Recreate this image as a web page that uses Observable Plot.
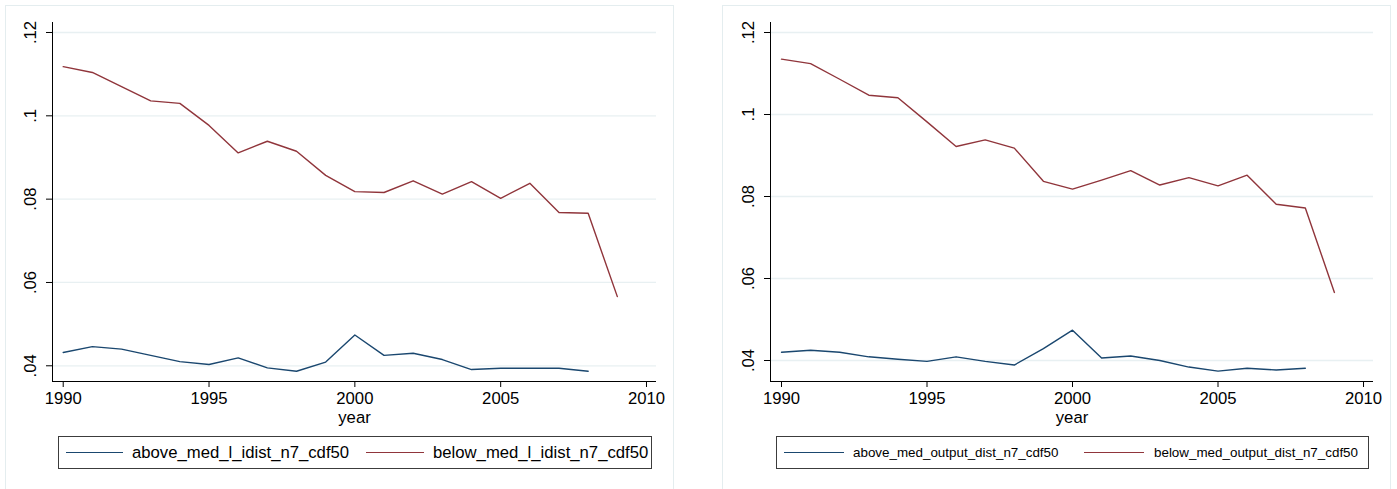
<!DOCTYPE html>
<html><head><meta charset="utf-8">
<script src="https://cdn.jsdelivr.net/npm/d3@7"></script>
<script src="https://cdn.jsdelivr.net/npm/@observablehq/plot@0.6"></script>
<style>
body{margin:0;background:#fff;font-family:"Liberation Sans",Arial,sans-serif;}
#root{position:relative;width:1397px;height:489px;overflow:hidden;}
.panel{position:absolute;top:5px;height:500px;border:1px solid #e4edef;box-sizing:border-box;}
.chart{position:absolute;top:0;}
.legend{position:absolute;top:436px;height:33px;border:1.5px solid #3c3c3c;box-sizing:border-box;background:#fff;}
.item{position:absolute;top:0;height:100%;display:flex;align-items:center;white-space:nowrap;color:#000;}
.swatch{position:absolute;height:0;border-top:1.5px solid;}
</style></head><body><div id="root"></div>
<script>
const years = [1990,1991,1992,1993,1994,1995,1996,1997,1998,1999,2000,2001,2002,2003,2004,2005,2006,2007,2008,2009];
// Left panel: l_idist
const leftAbove = [0.0432,0.0446,0.0440,0.0425,0.0410,0.0403,0.0419,0.0395,0.0387,0.0409,0.0474,0.0425,0.0430,0.0415,0.0391,0.0394,0.0394,0.0394,0.0387];
const leftBelow = [0.1118,0.1104,0.1070,0.1036,0.1030,0.0977,0.0911,0.0939,0.0915,0.0857,0.0818,0.0816,0.0844,0.0812,0.0842,0.0802,0.0838,0.0768,0.0766,0.0566];
// Right panel: output_dist
const rightAbove = [0.0420,0.0425,0.0420,0.0409,0.0403,0.0398,0.0409,0.0398,0.0389,0.0429,0.0474,0.0406,0.0411,0.0400,0.0384,0.0374,0.0381,0.0377,0.0381];
const rightBelow = [0.1135,0.1124,0.1086,0.1047,0.1041,0.0982,0.0922,0.0938,0.0918,0.0837,0.0818,0.0840,0.0863,0.0828,0.0846,0.0826,0.0852,0.0781,0.0772,0.0566];
const leftLabels = ["above_med_l_idist_n7_cdf50","below_med_l_idist_n7_cdf50"];
const rightLabels = ["above_med_output_dist_n7_cdf50","below_med_output_dist_n7_cdf50"];
const yTicks = [0.04,0.06,0.08,0.1,0.12];
const yTickLabels = [".04",".06",".08",".1",".12"];
const xTicks = [1990,1995,2000,2005,2010];
const xLabel = "year";
const colors = ["#1a476f","#90353b"];

const FONT = '"Liberation Sans", Arial, sans-serif';
const root = document.getElementById("root");

function toRows(vals){ return vals.map((v,i)=>({year: years[i], value: v})); }

function panel({left, width, marginLeft, xDomain, yDomain, above, below}){
  const chart = Plot.plot({
    width, height: 430,
    marginLeft, marginRight: 24, marginTop: 22, marginBottom: 49,
    style: {fontFamily: FONT, fontSize: "16.7px", background: "transparent", color: "#000", overflow: "visible"},
    x: {domain: xDomain},
    y: {domain: yDomain},
    marks: [
      Plot.gridY(yTicks, {stroke: "#e8f0f2", strokeOpacity: 1, strokeWidth: 1.3}),
      Plot.ruleX([xDomain[0]], {y1: yDomain[0], y2: yDomain[1], stroke: "#000", strokeWidth: 1}),
      Plot.ruleY([yDomain[0]], {x1: xDomain[0], x2: xDomain[1], stroke: "#000", strokeWidth: 1}),
      Plot.axisY(yTicks, {tickSize: 6, tickRotate: -90, tickPadding: 11, label: null,
        tickFormat: d => yTickLabels[yTicks.indexOf(d)], fontSize: "16.7px"}),
      Plot.axisX(xTicks, {tickSize: 6, tickPadding: 5, label: null, tickFormat: d => String(d), fontSize: "16.7px"}),
      Plot.text([xLabel], {frameAnchor: "bottom", text: d => d, dy: 41, lineAnchor: "bottom", fontSize: "16.7px"}),
      Plot.line(toRows(above), {x: "year", y: "value", stroke: colors[0], strokeWidth: 1.4}),
      Plot.line(toRows(below), {x: "year", y: "value", stroke: colors[1], strokeWidth: 1.4})
    ]
  });
  chart.classList.add("chart");
  chart.style.left = left + "px";
  root.appendChild(chart);
}

function frameBox(left, width){
  const d = document.createElement("div");
  d.className = "panel";
  d.style.left = left + "px";
  d.style.width = width + "px";
  root.appendChild(d);
}

function legend({left, width, fontSize, labels, items}){
  const box = document.createElement("div");
  box.className = "legend";
  box.style.left = left + "px";
  box.style.width = width + "px";
  labels.forEach((lab, i) => {
    const it = items[i];
    const sw = document.createElement("div");
    sw.className = "swatch";
    sw.style.left = it.sx + "px";
    sw.style.width = it.sw + "px";
    sw.style.top = "14.5px";
    sw.style.borderTopColor = colors[i];
    box.appendChild(sw);
    const t = document.createElement("div");
    t.className = "item";
    t.style.left = it.tx + "px";
    t.style.fontSize = fontSize;
    t.textContent = lab;
    box.appendChild(t);
  });
  root.appendChild(box);
}

frameBox(5, 669);
frameBox(722, 669);

panel({left: 0, width: 680, marginLeft: 52, xDomain: [1989.633, 2010.343], yDomain: [0.03623, 0.1224], above: leftAbove, below: leftBelow});
panel({left: 700, width: 697, marginLeft: 70, xDomain: [1989.622, 2010.343], yDomain: [0.03488, 0.12244], above: rightAbove, below: rightBelow});

legend({left: 58, width: 594, fontSize: "16.7px", labels: leftLabels,
  items: [{sx: 7, sw: 57, tx: 73}, {sx: 307, sw: 58, tx: 374}]});
legend({left: 776, width: 593, fontSize: "13.4px", labels: rightLabels,
  items: [{sx: 7, sw: 60, tx: 76}, {sx: 307, sw: 60, tx: 377}]});
</script></body></html>
